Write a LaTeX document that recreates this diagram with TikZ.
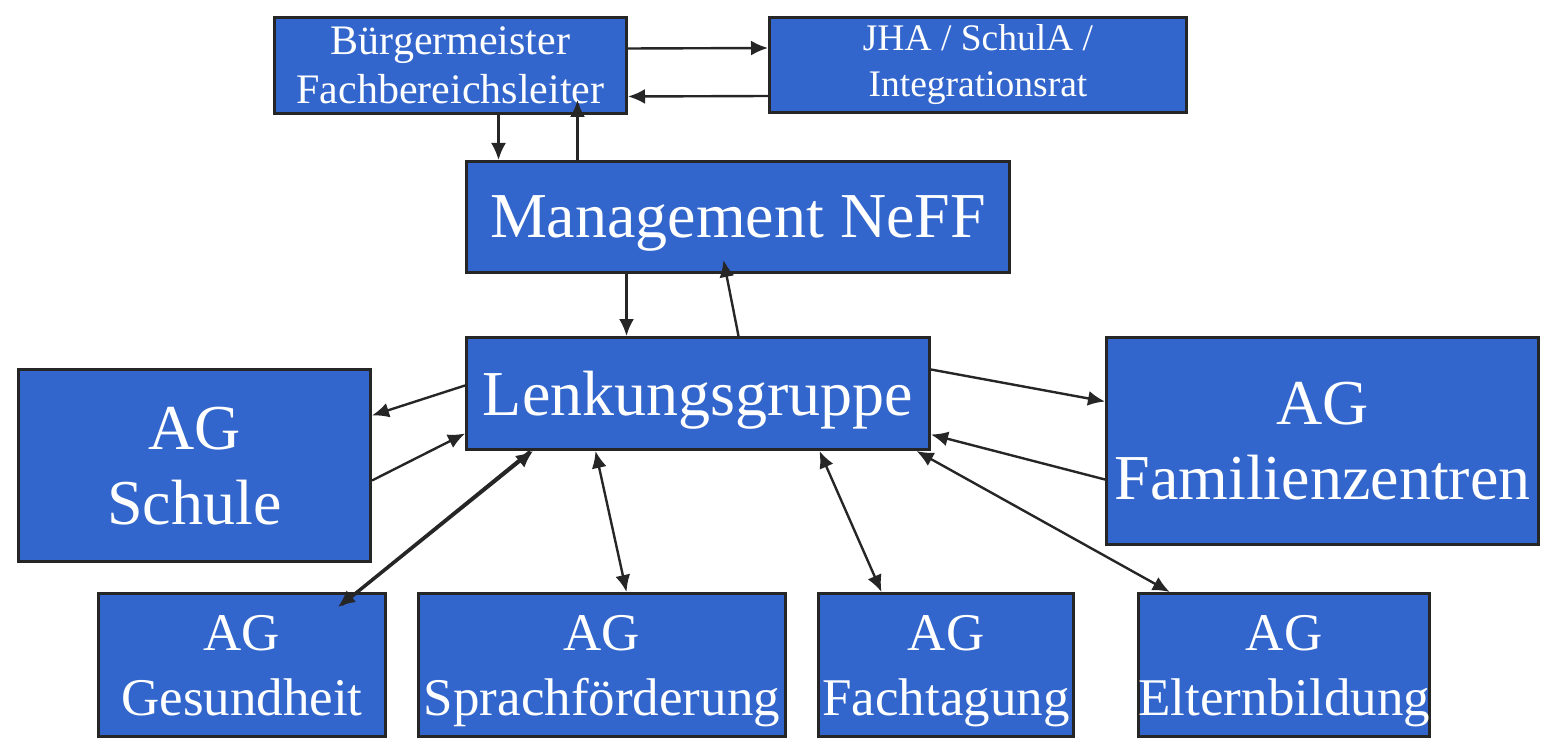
\documentclass[tikz,border=0pt]{standalone}
\usepackage{fontspec}
\setmainfont{Liberation Serif}
\usepackage{xcolor}
\usepackage{tikz}
\usetikzlibrary{arrows.meta, positioning, calc}
\definecolor{neffBlue}{RGB}{51, 102, 204}
\definecolor{neffLine}{RGB}{38, 38, 38}

\begin{document}
\begin{tikzpicture}[
    x=1pt, y=-1pt,
    box/.style={rectangle, draw=neffLine, line width=3pt, fill=neffBlue, text=white, align=center, inner sep=0pt, anchor=north west},
    toptext/.style={font=\fontsize{42}{49}\selectfont},
    boardtext/.style={font=\fontsize{37.5}{46}\selectfont},
    bigtext/.style={font=\fontsize{64}{75}\selectfont, text depth=-10pt},
    agtext/.style={font=\fontsize{53}{65}\selectfont, text depth=-7pt},
    arrow/.style={-{Latex[length=17pt,width=15pt]}, line width=2.4pt, draw=neffLine},
    twoway/.style={{Latex[length=17pt,width=15pt]}-{Latex[length=17pt,width=15pt]}, line width=2.4pt, draw=neffLine}
]
\useasboundingbox (0,0) rectangle (1546,743);

% Leitung
\node[box, toptext, minimum width=352pt, minimum height=96pt] (bm) at (273,16) {Bürgermeister\\Fachbereichsleiter};
\node[box, boardtext, minimum width=417pt, minimum height=95pt] (jha) at (768,16) {JHA / SchulA /\\Integrationsrat};

% Steuerung
\node[box, bigtext, minimum width=543pt, minimum height=111pt] (mgmt) at (465,160) {Management NeFF};
\node[box, bigtext, minimum width=463pt, minimum height=112pt] (lenk) at (465,336) {Lenkungsgruppe};

% Arbeitsgruppen
\node[box, bigtext, minimum width=352pt, minimum height=192pt] (schule) at (17,368) {AG\\Schule};
\node[box, bigtext, minimum width=432pt, minimum height=207pt] (fam) at (1105,336) {AG\\Familienzentren};
\node[box, agtext, minimum width=287pt, minimum height=143pt] (ges) at (97,592) {AG\\Gesundheit};
\node[box, agtext, minimum width=367pt, minimum height=143pt] (spr) at (417,592) {AG\\Sprachförderung};
\node[box, agtext, minimum width=255pt, minimum height=143pt] (fach) at (817,592) {AG\\Fachtagung};
\node[box, agtext, minimum width=287pt, minimum height=143pt] (eltern) at (1137,592) {AG\\Elternbildung};

% Arrows
\draw[arrow] ([yshift=17pt]bm.east) -- ([yshift=17pt]jha.west);
\draw[arrow] ([yshift=-31pt]jha.west) -- ([yshift=-31pt]bm.east);
\draw[arrow] ([xshift=48pt]bm.south) -- ([xshift=48pt]bm.south |- mgmt.north);
\draw[arrow] ([xshift=127pt]bm.south |- mgmt.north) -- ([xshift=127pt, yshift=15pt]bm.south);
\draw[arrow] ([xshift=-71.5pt]lenk.north |- mgmt.south) -- ([xshift=-71.5pt]lenk.north);
\draw[arrow] ([xshift=40.5pt]lenk.north) -- ([xshift=-14.5pt, yshift=14pt]mgmt.south);
\draw[arrow] ([yshift=8pt]lenk.west) -- ([yshift=50pt]schule.east);
\draw[arrow] ([yshift=-15pt]schule.east) -- ([yshift=-40pt]lenk.west);
\draw[arrow] ([xshift=-168pt]lenk.south) -- ([xshift=96pt, yshift=-15pt]ges.north);
\draw[arrow] ([xshift=100pt, yshift=-13pt]ges.north) -- ([xshift=-165pt]lenk.south);
\draw[twoway] ([xshift=-102.5pt]lenk.south) -- ([xshift=24.5pt]spr.north);
\draw[twoway] ([xshift=121.5pt]lenk.south) -- ([xshift=-64.5pt]fach.north);
\draw[twoway] ([xshift=218.5pt]lenk.south) -- ([xshift=-114.5pt]eltern.north);
\draw[arrow] ([yshift=24pt]lenk.east) -- ([yshift=39.5pt]fam.west);
\draw[arrow] ([yshift=-38.5pt]fam.west) -- ([yshift=-41pt]lenk.east);

\end{tikzpicture}
\end{document}
